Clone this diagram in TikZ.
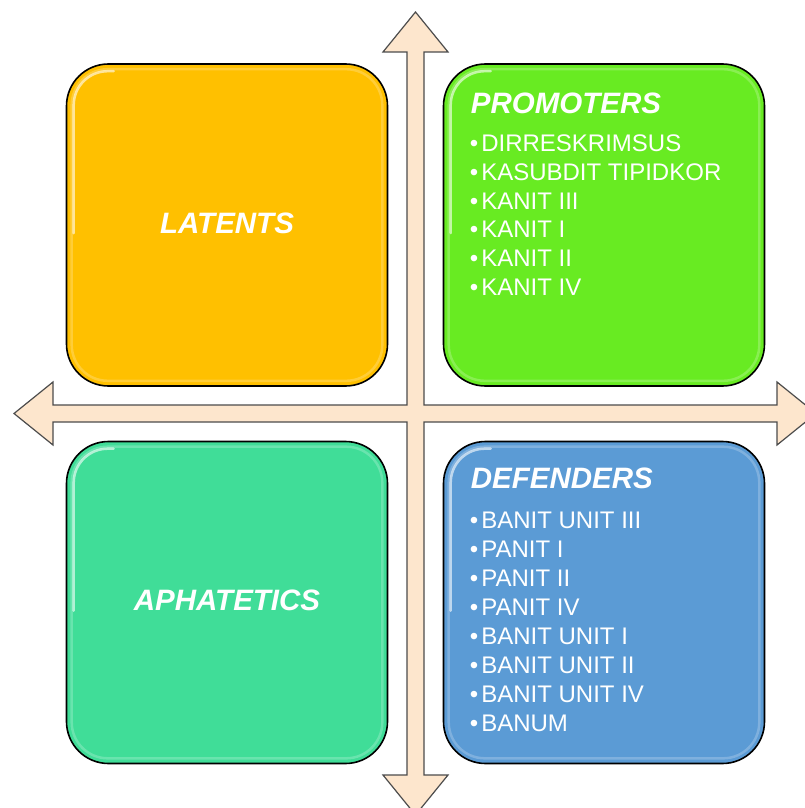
\documentclass[tikz,border=0pt]{standalone}
\usepackage{fontspec}
\setmainfont{Liberation Sans}
\usetikzlibrary{positioning}
\definecolor{latentcol}{HTML}{FFC000}
\definecolor{promotercol}{HTML}{68EB22}
\definecolor{apathcol}{HTML}{40DD98}
\definecolor{defendercol}{HTML}{5B9BD5}
\definecolor{crossfill}{HTML}{FDE6CD}
\tikzset{%
    quad/.style={%
        rectangle,
        draw=black,
        line width=1.6pt,
        rounded corners=42pt,
        minimum width=321pt,
        minimum height=322pt,
        inner sep=0pt
    },
    gloss/.style={%
        draw=white,
        draw opacity=0.22,
        line width=2.5pt,
        rounded corners=36pt
    },
    shine/.style={%
        draw=white,
        draw opacity=0.6,
        line width=2.5pt,
        line cap=round,
        rounded corners=34pt
    },
    title/.style={%
        text=white,
        font=\fontsize{29.5}{35}\selectfont\bfseries\itshape,
        inner sep=0pt
    },
    item/.style={%
        text=white,
        font=\fontsize{24}{28.9}\selectfont,
        inner sep=0pt,
        anchor=base west
    }
}

\begin{document}
\begin{tikzpicture}[x=1pt,y=-1pt]
    \useasboundingbox (0,0) rectangle (804,808);
    % the cross of two double arrows
    \draw[fill=crossfill, draw=black!70, line width=1.2pt, line join=miter]
        (415.5,12) -- (448,52) -- (424,52) -- (424,405) -- (777,405) -- (777,382)
        -- (816,413.5) -- (777,445) -- (777,422) -- (424,422) -- (424,775)
        -- (448,775) -- (415.5,815) -- (383,775) -- (407,775) -- (407,422)
        -- (53,422) -- (53,445) -- (14,413.5) -- (53,382) -- (53,405)
        -- (407,405) -- (407,52) -- (383,52) -- cycle;
    % quadrants
    \node[quad, fill=latentcol] (lat) at (227,225) {};
    \node[quad, fill=promotercol] (prom) at (604,225) {};
    \node[quad, fill=apathcol] (aph) at (227,602.5) {};
    \node[quad, fill=defendercol] (def) at (604,602.5) {};
    \foreach \q in {lat,prom,aph,def} {
        \draw[gloss] ([shift={(6,6)}]\q.north west) rectangle ([shift={(-6,-6)}]\q.south east);
        \draw[shine] ([shift={(8,170)}]\q.north west) -- ([shift={(8,8)}]\q.north west)
            -- ([shift={(48,8)}]\q.north west);
    }
    % titles
    \node[title] (latT) at ([yshift=2pt]lat.center) {LATENTS};
    \node[title] (aphT) at ([yshift=2pt]aph.center) {APHATETICS};
    \node[title, anchor=base west] (promT) at ([shift={(28,50)}]prom.north west) {PROMOTERS};
    \node[title, anchor=base west] (defT) at ([shift={(28,48)}]def.north west) {DEFENDERS};
    % lists
    \foreach \txt [count=\i] in {DIRRESKRIMSUS, KASUBDIT TIPIDKOR, KANIT III,
            KANIT I, KANIT II, KANIT IV}
        \node[item] (prom\i) at ([shift={(27,{88+28.9*(\i-1)})}]prom.north west)
            {\textbullet\hspace{3pt}\txt};
    \foreach \txt [count=\i] in {BANIT UNIT III, PANIT I, PANIT II, PANIT IV,
            BANIT UNIT I, BANIT UNIT II, BANIT UNIT IV, BANUM}
        \node[item] (def\i) at ([shift={(27,{88+28.9*(\i-1)})}]def.north west)
            {\textbullet\hspace{3pt}\txt};
\end{tikzpicture}
\end{document}
